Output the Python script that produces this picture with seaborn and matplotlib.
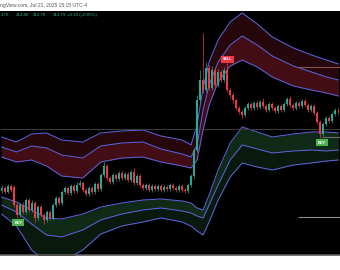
import matplotlib
matplotlib.use("Agg")
import matplotlib.pyplot as plt
import numpy as np
import pandas as pd
import seaborn as sns

# ---------------- data ----------------
opens = [204.9,205.2,204.8,205.4,205.3,203.5,202.5,203.5,202.8,204.0,
         203.0,203.7,202.2,203.3,202.5,202.0,202.8,202.2,203.5,204.2,
         203.7,204.8,205.2,204.7,205.4,204.9,205.5,205.7,205.0,204.6,
         205.2,204.8,205.6,205.1,206.5,207.4,206.2,205.8,206.5,206.1,
         206.7,206.2,206.6,206.0,206.8,205.7,206.4,205.5,205.2,205.5,
         205.0,205.4,205.1,205.4,205.0,205.3,205.1,205.5,205.2,205.0,
         205.4,205.0,204.9,205.5,206.4,209.0,214.0,216.0,215.0,217.2,
         215.2,217.0,215.5,216.8,216.0,217.0,215.0,214.5,214.0,213.2,
         212.8,212.5,213.2,213.6,213.2,213.7,213.3,213.8,213.4,213.0,
         213.6,213.2,212.9,213.4,213.0,213.6,214.1,213.5,213.2,213.7,
         213.4,213.9,213.5,213.0,213.4,212.7,211.8,210.6,211.6,212.2,
         211.9,212.6,213.0]
closes = [205.2,204.8,205.4,205.0,203.5,202.5,203.5,202.8,204.0,203.0,
          203.7,202.2,203.3,202.5,202.0,202.8,202.2,203.5,204.2,203.7,
          204.8,205.2,204.7,205.4,204.9,205.5,205.7,205.0,204.6,205.2,
          204.8,205.6,205.1,206.5,207.4,206.2,205.8,206.5,206.1,206.7,
          206.2,206.6,206.0,206.8,205.7,206.4,205.5,205.2,205.5,205.0,
          205.4,205.1,205.4,205.0,205.3,205.1,205.5,205.2,205.0,205.4,
          205.0,204.9,205.5,206.4,209.0,214.0,216.0,215.0,217.2,215.2,
          217.0,215.5,216.8,216.0,217.0,215.0,214.5,214.0,213.2,212.8,
          212.5,213.2,213.6,213.2,213.7,213.3,213.8,213.4,213.0,213.6,
          213.2,212.9,213.4,213.0,213.6,214.1,213.5,213.2,213.7,213.4,
          213.9,213.5,213.0,213.4,212.7,211.8,210.6,211.6,212.2,211.9,
          212.6,213.0,212.8]
highs = [205.5,205.4,205.6,205.6,205.5,203.7,203.7,203.8,204.2,204.2,
         204.0,203.9,203.5,203.5,202.7,203.0,203.0,203.7,204.4,204.4,
         205.0,205.4,205.4,205.6,205.6,205.8,206.0,205.9,205.2,205.4,
         205.4,205.8,205.8,206.7,207.8,207.6,206.4,206.7,206.7,206.9,
         206.9,206.8,206.8,207.0,207.2,206.6,206.6,205.7,205.7,205.7,
         205.6,205.6,205.6,205.6,205.5,205.5,205.7,205.7,205.4,205.6,
         205.6,205.2,205.7,206.6,209.2,214.5,217.0,220.7,217.8,217.5,
         217.4,217.3,217.1,217.0,217.3,217.7,215.2,214.7,214.2,213.4,
         213.0,213.4,213.8,213.8,213.9,213.9,214.0,214.2,213.6,213.8,
         213.8,213.4,213.6,213.6,213.8,214.3,214.4,213.7,213.9,213.9,
         214.1,214.2,213.7,213.6,213.6,212.9,212.0,211.8,212.4,212.4,
         212.8,213.2,213.2]
lows = [204.7,204.6,204.7,204.8,203.3,202.2,202.3,202.6,202.6,202.8,
        202.8,201.8,202.0,202.3,201.6,201.8,202.0,202.0,203.3,203.5,
        203.5,204.6,204.5,204.5,204.7,204.7,205.3,204.8,204.4,204.4,
        204.6,204.6,204.9,204.9,206.3,206.0,205.6,205.6,205.9,205.9,
        206.0,206.0,205.8,205.8,205.5,205.5,205.3,205.0,205.0,204.8,
        204.8,204.9,204.9,204.8,204.8,204.9,204.9,205.0,204.8,204.8,
        204.8,204.7,204.7,205.3,206.2,208.8,213.8,214.7,214.8,215.0,
        215.0,215.2,215.3,215.8,215.8,214.8,214.2,213.7,213.0,212.6,
        212.2,212.3,213.0,213.0,213.0,213.1,213.1,213.2,212.8,212.8,
        213.0,212.7,212.7,212.8,212.8,213.4,213.3,213.0,213.0,213.2,
        213.2,213.3,212.8,212.8,212.5,211.6,210.2,210.4,211.4,211.7,
        211.7,212.4,212.6]

band_bars = [0, 5, 10, 15, 20, 27, 33, 40, 47, 53, 60, 63, 65, 67, 69, 72,
             76, 80, 85, 90, 97, 103, 108, 112]
upper_outer = [210.3,209.8,210.6,210.7,210.0,209.8,210.7,210.9,211.0,210.4,210.0,209.5,
               211.5,215.2,217.8,220.0,221.8,222.7,221.6,220.3,219.2,218.5,218.0,217.6]
upper_mid = [209.3,208.8,209.4,209.2,208.5,208.2,209.4,209.7,209.8,209.1,208.6,208.3,
             209.5,213.0,215.5,217.8,219.5,220.4,219.5,218.4,217.4,216.8,216.3,216.0]
upper_inner = [208.3,207.8,208.0,207.4,206.4,206.2,207.8,208.2,208.3,207.8,207.4,207.2,
               208.0,211.0,213.5,215.8,217.4,218.0,217.3,216.3,215.4,215.0,214.7,214.4]
lower_inner = [204.3,203.8,203.0,202.2,202.1,202.6,203.3,203.7,204.0,204.1,203.9,203.7,
               203.2,203.0,204.5,207.0,209.7,211.3,210.8,210.3,210.6,210.8,210.8,210.7]
lower_mid = [203.5,202.8,201.6,200.5,200.3,201.0,202.0,202.6,203.0,203.2,202.9,202.7,
             202.4,202.2,203.5,205.5,208.0,209.5,209.1,208.7,208.9,209.0,208.9,209.0]
lower_outer = [202.6,201.4,199.0,197.8,197.8,199.0,200.6,201.4,201.8,202.2,201.8,201.4,
               200.9,200.5,201.8,204.0,206.3,207.7,207.3,207.0,207.5,207.7,207.9,208.0]

level_prices = [211.1, 217.3, 202.3, 210.3]
level_from_bar = [0, 99, 99, 107]
level_colors = ["#3a3a3a", "#8a5049", "#8c8c8c", "#6f6f6f"]

buy_bars = [5, 106]
sell_bars = [75]

header_title = "ngView.com, Jul 21, 2025 15:15 UTC-4"
header_values = ["2.70", "212.80", "212.70", "212.79", "+0.10 (+0.05%)"]

# ---------------- styling ----------------
sns.set_theme(style="dark")
plt.rcParams["font.family"] = ["Liberation Sans", "DejaVu Sans"]

W, H = 340, 270
fig = plt.figure(figsize=(W / 100, H / 100), dpi=100, facecolor="white")
ax = fig.add_axes([0, 15 / H, 1, 244 / H])
ax.set_facecolor("#000000")

n = len(closes)
bars = np.arange(n)
ax.set_xlim(-0.5, n - 0.5)
ax.set_ylim(198.5, 222.9)

band_col = "#5d62d4"
# band fills
ax.fill_between(band_bars, upper_outer, upper_mid, color="#26070b", lw=0, zorder=1)
ax.fill_between(band_bars, upper_mid, upper_inner, color="#420d15", lw=0, zorder=1)
ax.fill_between(band_bars, lower_inner, lower_mid, color="#0f2a16", lw=0, zorder=1)
ax.fill_between(band_bars, lower_mid, lower_outer, color="#09190d", lw=0, zorder=1)

band_df = pd.concat([
    pd.DataFrame({"bar": band_bars, "price": vals, "line": name})
    for name, vals in [("uo", upper_outer), ("um", upper_mid), ("ui", upper_inner),
                       ("li", lower_inner), ("lm", lower_mid), ("lo", lower_outer)]
])
sns.lineplot(data=band_df, x="bar", y="price", hue="line", units="line",
             estimator=None, sort=False, legend=False,
             palette={k: band_col for k in ["uo", "um", "ui", "li", "lm", "lo"]},
             lw=0.75, ax=ax, zorder=2)

# horizontal levels
for p, b0, c in zip(level_prices, level_from_bar, level_colors):
    ax.hlines(p, b0 - 0.5, n - 0.5, colors=c, lw=0.8, zorder=2)

# candles
up = np.array(closes) >= np.array(opens)
cols = np.where(up, "#22ab94", "#f23645")
ax.vlines(bars, lows, highs, colors=cols, lw=0.5, zorder=3)
body = np.array(closes) - np.array(opens)
body = np.where(np.abs(body) < 0.08, 0.08, body)
ax.bar(bars, body, bottom=opens, width=0.66, color=cols, lw=0, zorder=4)

# signal labels
for b in buy_bars:
    ax.text(b + 0.6, lows[b] - 0.25, "BUY", ha="center", va="top", fontsize=2.7,
            color="white", fontweight="bold", zorder=6,
            bbox=dict(boxstyle="square,pad=0.5", fc="#4caf50", ec="none"))
for b in sell_bars:
    ax.text(b, highs[b] + 0.15, "SELL", ha="center", va="bottom", fontsize=2.7,
            color="white", fontweight="bold", zorder=6,
            bbox=dict(boxstyle="square,pad=0.5", fc="#f23645", ec="none"))

ax.set_xticks([])
ax.set_yticks([])
ax.set_xlabel("")
ax.set_ylabel("")
for s in ["top", "left", "right"]:
    ax.spines[s].set_visible(False)
ax.spines["bottom"].set_color("#5c5c5c")
ax.spines["bottom"].set_linewidth(1.2)

# header texts
fig.text(0 / W, 1 - 5.5 / H, header_title, fontsize=3.6, color="#555555",
         ha="left", va="center")
for xp, t in zip([1, 16, 33, 53, 67], header_values):
    fig.text(xp / W, 1 - 15.5 / H, t, fontsize=3.2, color="#2bbf8a",
             ha="left", va="center")

fig.savefig("out.png", dpi=100, facecolor="white")
